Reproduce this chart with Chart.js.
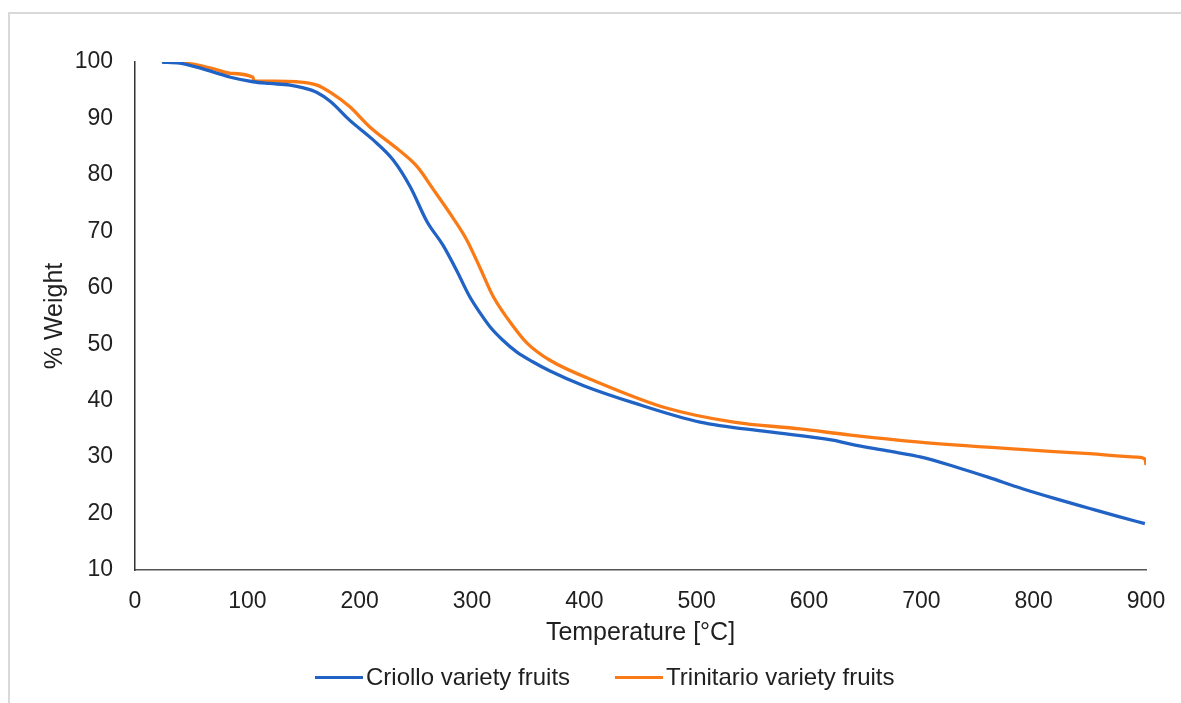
<!DOCTYPE html>
<html lang="en">
<head>
  <meta charset="UTF-8">
  <title>TGA curves</title>
  <style>
    body {
      margin: 0;
      background: #fff;
      font-family: 'Liberation Sans', Arial, sans-serif;
      overflow: hidden;
    }
    .frame {
      position: absolute;
      left: 8px;
      top: 12px;
      width: 1200px;
      height: 720px;
      border: 2px solid #d9d9d9;
    }
    #tga {
      position: absolute;
      left: 0;
      top: 0;
    }
    .legend {
      position: absolute;
      left: 315px;
      top: 662px;
      height: 30px;
      display: flex;
      align-items: center;
      font-size: 24px;
      color: #1f1f1f;
    }
    .legend .item {
      display: flex;
      align-items: center;
      margin-right: 45px;
    }
    .legend .swatch {
      width: 48px;
      height: 3px;
      margin-right: 3px;
    }
  </style>
  <script src="https://cdn.jsdelivr.net/npm/chart.js"></script>
</head>
<body>
  <div class="frame"></div>
  <canvas id="tga" width="1181" height="703"></canvas>
  <div class="legend" id="legend"></div>

  <script>
    // Criollo variety fruits (blue)
    const criolloT = [24, 40, 55, 70, 85, 105, 120, 138, 150, 162, 174, 191, 212, 230, 245, 260, 274, 286, 298, 307, 316, 327, 340, 354, 369, 400, 444, 503, 563, 621, 637, 670, 700, 730, 760, 790, 820, 850, 875, 899];
    const criolloW = [100, 99.8, 99.1, 98.2, 97.3, 96.5, 96.2, 95.9, 95.4, 94.6, 93.0, 89.7, 86.2, 82.6, 77.9, 71.7, 67.6, 63.2, 58.4, 55.6, 53.1, 50.8, 48.6, 46.9, 45.3, 42.6, 39.6, 36.2, 34.5, 33.0, 32.3, 31.1, 30.0, 28.3, 26.4, 24.4, 22.6, 20.9, 19.5, 18.2];

    // Trinitario variety fruits (orange)
    const trinitarioT = [27, 40, 55, 70, 85, 105, 106, 125, 144, 162, 174, 191, 209, 233, 251, 266, 283, 295, 307, 319, 337, 349, 369, 414, 473, 533, 592, 637, 696, 785, 850, 892, 899, 900];
    const trinitarioW = [100, 99.9, 99.5, 98.8, 98.0, 97.3, 96.6, 96.6, 96.5, 95.9, 94.6, 92.1, 88.5, 84.7, 81.5, 77.3, 72.4, 68.6, 63.6, 58.4, 53.1, 50.2, 47.2, 43.1, 38.7, 36.2, 35.0, 33.9, 32.7, 31.4, 30.6, 30.0, 29.7, 28.6];

    const xTicks = [0, 100, 200, 300, 400, 500, 600, 700, 800, 900];
    const yTicks = [10, 20, 30, 40, 50, 60, 70, 80, 90, 100];

    const font = "'Liberation Sans', Arial, sans-serif";
    const textColor = '#1f1f1f';

    function toPoints(xs, ys) {
      return xs.map((x, i) => ({ x: x, y: ys[i] }));
    }

    const datasets = [
      {
        label: 'Criollo variety fruits',
        data: toPoints(criolloT, criolloW),
        borderColor: '#2163c4',
        backgroundColor: '#2163c4'
      },
      {
        label: 'Trinitario variety fruits',
        data: toPoints(trinitarioT, trinitarioW),
        borderColor: '#fa7a16',
        backgroundColor: '#fa7a16'
      }
    ];

    const chart = new Chart(document.getElementById('tga'), {
      type: 'line',
      data: { datasets },
      options: {
        responsive: false,
        animation: false,
        devicePixelRatio: 1,
        layout: { padding: { left: 20, right: 35, top: 62, bottom: 40 } },
        elements: {
          line: { borderWidth: 3.3, cubicInterpolationMode: 'monotone' },
          point: { radius: 0 }
        },
        plugins: {
          legend: { display: false },
          tooltip: { enabled: false }
        },
        scales: {
          x: {
            type: 'linear',
            min: xTicks[0],
            max: xTicks[xTicks.length - 1],
            afterBuildTicks: axis => { axis.ticks = xTicks.map(v => ({ value: v })); },
            afterFit: axis => {
              axis.height = 93;
              axis.paddingLeft = 0;
              axis.paddingRight = 0;
            },
            grid: { display: false, drawTicks: false },
            border: { display: true, color: '#555', width: 1.5 },
            ticks: { padding: 18, color: textColor, font: { family: font, size: 23 } },
            title: {
              display: true,
              text: 'Temperature [°C]',
              color: textColor,
              font: { family: font, size: 25 },
              padding: { top: 0, bottom: 15 }
            }
          },
          y: {
            min: yTicks[0],
            max: yTicks[yTicks.length - 1],
            afterBuildTicks: axis => { axis.ticks = yTicks.map(v => ({ value: v })); },
            afterFit: axis => { axis.width = 115; },
            grid: { display: false, drawTicks: false },
            border: { display: true, color: '#333', width: 1.5 },
            ticks: { padding: 22, color: textColor, font: { family: font, size: 23 } },
            title: {
              display: true,
              text: '% Weight',
              color: textColor,
              font: { family: font, size: 25 },
              padding: { top: 20, bottom: 0 }
            }
          }
        }
      }
    });

    // legend drawn as html so spacing can follow the original
    const legend = document.getElementById('legend');
    chart.data.datasets.forEach(ds => {
      const item = document.createElement('div');
      item.className = 'item';
      const sw = document.createElement('span');
      sw.className = 'swatch';
      sw.style.background = ds.borderColor;
      const txt = document.createElement('span');
      txt.textContent = ds.label;
      item.appendChild(sw);
      item.appendChild(txt);
      legend.appendChild(item);
    });
  </script>
</body>
</html>
